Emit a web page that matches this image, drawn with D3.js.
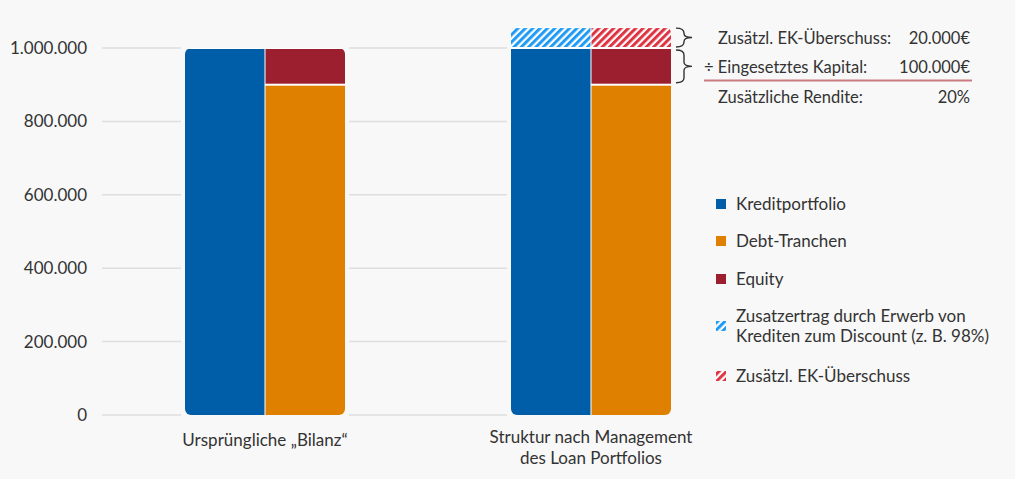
<!DOCTYPE html>
<html><head><meta charset="utf-8">
<script src="https://cdn.jsdelivr.net/npm/d3@7"></script>
<style>
html,body{margin:0;padding:0;background:#f8f8f8;}
svg{display:block;font-family:Lato,"Open Sans",sans-serif;}
</style></head>
<body><svg id="c" width="1015" height="479"></svg>
<script>
const categories = ["Ursprüngliche „Bilanz“", "Struktur nach Management|des Loan Portfolios"];
const kreditportfolio = [1000000, 1000000];
const debtTranchen = [900000, 900000];
const equity = [100000, 100000];
const zusatzertrag = [0, 57000];
const ekUeberschuss = [0, 57000];
const yTicks = [0, 200000, 400000, 600000, 800000, 1000000];
const legendLabels = ["Kreditportfolio", "Debt-Tranchen", "Equity", "Zusatzertrag durch Erwerb von|Krediten zum Discount (z. B. 98%)", "Zusätzl. EK-Überschuss"];
const annotRows = [["Zusätzl. EK-Überschuss:", "20.000€"], ["÷ Eingesetztes Kapital:", "100.000€"], ["Zusätzliche Rendite:", "20%"]];

const C = {blue:"#005ea9", orange:"#df8000", red:"#9c1f30", hblue:"#1f9bf5", hred:"#df3342", bg:"#f8f8f8", grid:"#dedede", text:"#333"};
const svg = d3.select("#c");
const defs = svg.append("defs");
function hatch(id, col){
  const p = defs.append("pattern").attr("id", id).attr("patternUnits","userSpaceOnUse")
    .attr("width",5.2).attr("height",5.2).attr("patternTransform","rotate(45)");
  p.append("rect").attr("width",5.2).attr("height",5.2).attr("fill","#fff");
  p.append("rect").attr("width",3).attr("height",5.2).attr("fill",col);
}
hatch("hb", C.hblue); hatch("hr", C.hred);

const y = d3.scaleLinear().domain([0,1000000]).range([415,48]);
const x = d3.scaleBand().domain(categories).range([102,754]).paddingInner(0.5092).paddingOuter(0.2546);
const sub = d3.scaleBand().domain(["a","p"]).range([0, x.bandwidth()]).paddingInner(0.0125);

const fmt = v => d3.format(",")(v).replace(/,/g,".");
svg.append("g").selectAll("line").data(yTicks).join("line")
  .attr("x1",102).attr("x2",x(categories[1])+x.bandwidth())
  .attr("y1",d=>y(d)).attr("y2",d=>y(d)).attr("stroke",C.grid).attr("stroke-width",1.5);
svg.append("g").selectAll("text").data(yTicks).join("text")
  .attr("x",87).attr("y",d=>y(d)).attr("dy","0.35em").attr("text-anchor","end")
  .attr("fill",C.text).attr("font-size",17).text(fmt);

categories.forEach((cat,i)=>{
  const gx = x(cat);
  const top = y(Math.max(kreditportfolio[i]+zusatzertrag[i], debtTranchen[i]+equity[i]+ekUeberschuss[i]));
  const g = svg.append("g");
  g.append("rect").attr("x",gx-4).attr("y",top-4).attr("width",x.bandwidth()+8).attr("height",y(0)-top+6).attr("fill",C.bg);
  const cid = "clip"+i;
  defs.append("clipPath").attr("id",cid).append("rect").attr("x",gx).attr("y",top)
    .attr("width",x.bandwidth()).attr("height",y(0)-top).attr("rx",6);
  const gg = g.append("g").attr("clip-path",`url(#${cid})`);
  gg.append("rect").attr("x",gx).attr("y",top).attr("width",x.bandwidth()).attr("height",y(0)-top).attr("fill","#fff");
  const segs = [
    {col:"a", y0:0, y1:kreditportfolio[i], fill:C.blue},
    {col:"a", y0:kreditportfolio[i], y1:kreditportfolio[i]+zusatzertrag[i], fill:"url(#hb)"},
    {col:"p", y0:0, y1:debtTranchen[i], fill:C.orange},
    {col:"p", y0:debtTranchen[i], y1:debtTranchen[i]+equity[i], fill:C.red},
    {col:"p", y0:debtTranchen[i]+equity[i], y1:debtTranchen[i]+equity[i]+ekUeberschuss[i], fill:"url(#hr)"}
  ].filter(s=>s.y1>s.y0);
  gg.selectAll("rect.seg").data(segs).join("rect").attr("class","seg")
    .attr("x",d=>gx+sub(d.col)).attr("width",sub.bandwidth())
    .attr("y",d=>y(d.y1)+1).attr("height",d=>y(d.y0)-y(d.y1)-2+(d.y0===0?3:0))
    .attr("fill",d=>d.fill);
  const cx = gx + x.bandwidth()/2;
  const lines = cat.split("|");
  const t = svg.append("text").attr("text-anchor","middle").attr("fill",C.text).attr("font-size",17);
  lines.forEach((l,k)=>t.append("tspan").attr("x",cx).attr("y",(lines.length>1?443:446)+k*21).text(l));
});

function brace(x0, y1, y2){
  const ym=(y1+y2)/2, s=x0+8, tip=x0+16;
  return `M${x0},${y1} Q${s},${y1} ${s},${y1+5} L${s},${ym-4} Q${s},${ym} ${tip},${ym} Q${s},${ym} ${s},${ym+4} L${s},${y2-5} Q${s},${y2} ${x0},${y2}`;
}
const bx = x(categories[1])+x.bandwidth()+5;
const tE = debtTranchen[1]+equity[1];
svg.append("path").attr("d",brace(bx, y(tE+ekUeberschuss[1])+1, y(tE)-1)).attr("fill","none").attr("stroke",C.text).attr("stroke-width",1.4);
svg.append("path").attr("d",brace(bx, y(tE)+2, y(debtTranchen[1])-2)).attr("fill","none").attr("stroke",C.text).attr("stroke-width",1.4);

const annY = [38, 67, 97], annX = [718, 704, 718];
annotRows.forEach((r,k)=>{
  svg.append("text").attr("x",annX[k]).attr("y",annY[k]).attr("dy","0.35em").attr("fill",C.text).attr("font-size",16.5).text(r[0]);
  svg.append("text").attr("x",970).attr("y",annY[k]).attr("dy","0.35em").attr("text-anchor","end").attr("fill",C.text).attr("font-size",16.5).text(r[1]);
});
svg.append("line").attr("x1",704).attr("x2",972).attr("y1",80.5).attr("y2",80.5).attr("stroke","#cc7a82").attr("stroke-width",2.2);

const legFill = [C.blue, C.orange, C.red, "url(#hb)", "url(#hr)"];
const legY = [204, 241, 279, 326, 376];
legendLabels.forEach((l,k)=>{
  svg.append("rect").attr("x",716).attr("y",legY[k]-5).attr("width",10).attr("height",10).attr("fill",legFill[k]);
  const lines = l.split("|");
  const t = svg.append("text").attr("fill",C.text).attr("font-size",17);
  lines.forEach((s,j)=>t.append("tspan").attr("x",736).attr("y",legY[k]+(lines.length>1?(j-0.5)*20.5:0)).attr("dy","0.35em").text(s));
});
</script></body></html>
